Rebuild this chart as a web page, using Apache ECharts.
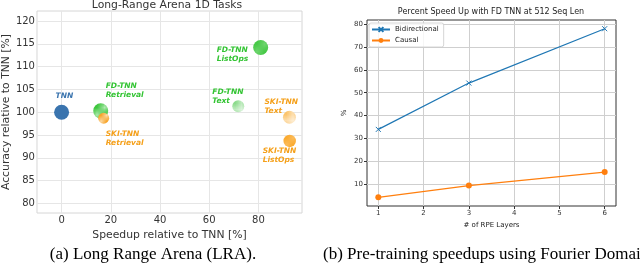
<!DOCTYPE html>
<html>
<head>
<meta charset="utf-8">
<script src="https://cdn.jsdelivr.net/npm/echarts@6.0.0/dist/echarts.min.js"></script>
<style>
html,body{margin:0;padding:0;background:#fff;}
#chart{width:640px;height:264px;}
</style>
</head>
<body>
<div id="chart"></div>
<script>
// ---- Left panel: Long-Range Arena 1D tasks ----
const lraNames = ['TNN', 'FD-TNN\nRetrieval', 'FD-TNN\nListOps', 'FD-TNN\nText', 'SKI-TNN\nRetrieval', 'SKI-TNN\nText', 'SKI-TNN\nListOps'];
const lraSpeedup = [0, 15.9, 80.9, 71.8, 17.1, 92.6, 92.7];
const lraAccuracy = [100, 100.3, 114.2, 101.3, 98.7, 98.9, 93.7];
const lraXTicks = [0, 20, 40, 60, 80];
const lraYTicks = [80, 85, 90, 95, 100, 105, 110, 115, 120];

// ---- Right panel: speed up vs RPE layers ----
const rpeLayers = [1, 3, 6];
const bidirectional = [34.0, 54.2, 77.9];
const causal = [4.4, 9.5, 15.4];
const rpeXTicks = [1, 2, 3, 4, 5, 6];
const rpeYTicks = [10, 20, 30, 40, 50, 60, 70, 80];

// styles (not data)
const lraStyle = [
  {color:'#3a74ae', text:'#3a74ae', size:15, hatch:null, off:[-6,-16]},
  {color:'#3dc73d', text:'#33c433', size:15, hatch:'diag', off:[5,-20]},
  {color:'#47c947', text:'#33c433', size:15, hatch:'light', off:[-44,7]},
  {color:'#8cdb8c', text:'#33c433', size:12, hatch:'grid', off:[-26,-10]},
  {color:'#f8a52a', text:'#f5a01a', size:11, hatch:'diag', off:[2,20]},
  {color:'#fcc46a', text:'#f5a01a', size:13, hatch:'grid', off:[-25,-11]},
  {color:'#fbab30', text:'#f5a01a', size:12.5, hatch:'light', off:[-27,15]}
];
function hatchFill(color, h){
  if(!h) return color;
  const c = document.createElement('canvas');
  const n = 4;
  c.width = n; c.height = n;
  const g = c.getContext('2d');
  g.fillStyle = color; g.fillRect(0,0,n,n);
  g.strokeStyle = h==='diag' ? 'rgba(255,255,255,0.6)' : (h==='grid' ? 'rgba(255,255,255,0.45)' : 'rgba(255,255,255,0.22)');
  g.lineWidth = 1;
  g.beginPath();
  if(h==='diag' || h==='light'){
    g.moveTo(-1,n+1); g.lineTo(n+1,-1);
    g.moveTo(-1,1); g.lineTo(1,-1);
    g.moveTo(n-1,n+1); g.lineTo(n+1,n-1);
  } else {
    g.moveTo(0,0.5); g.lineTo(n,0.5);
    g.moveTo(0.5,0); g.lineTo(0.5,n);
  }
  g.stroke();
  return {image:c, repeat:'repeat'};
}

const lraData = lraNames.map((n,i)=>{
  const s = lraStyle[i];
  return {
    name:n, value:[lraSpeedup[i], lraAccuracy[i]],
    symbolSize:s.size,
    itemStyle:{color:hatchFill(s.color, s.hatch), opacity:1},
    label:{show:true, position:'inside', align:'left', verticalAlign:'middle', offset:s.off,
      formatter:n, color:s.text, fontFamily:'DejaVu Sans', fontWeight:'bold', fontStyle:'italic',
      fontSize:7.5, lineHeight:9}
  };
});

const chart = echarts.init(document.getElementById('chart'), null, {renderer:'canvas'});
const axisFont = 'DejaVu Sans';
chart.setOption({
  animation:false,
  backgroundColor:'#fff',
  title:[
    {text:'Long-Range Arena 1D Tasks', left:167, top:0, textAlign:'center', padding:0,
      textStyle:{fontFamily:axisFont, fontSize:10.8, fontWeight:'normal', color:'#333'}},
    {text:'Percent Speed Up with FD TNN at 512 Seq Len', left:491, top:8, textAlign:'center', padding:0,
      textStyle:{fontFamily:axisFont, fontSize:8, fontWeight:'normal', color:'#222'}},
    {text:'(a) Long Range Arena (LRA).', left:153, top:246, textAlign:'center', padding:0,
      textStyle:{fontFamily:'Liberation Serif', fontSize:17, fontWeight:'normal', color:'#000'}},
    {text:'(b) Pre-training speedups using Fourier Domai', left:323, top:246, textAlign:'left', padding:0,
      textStyle:{fontFamily:'Liberation Serif', fontSize:17, fontWeight:'normal', color:'#000'}}
  ],
  legend:{
    data:['Bidirectional','Causal'], orient:'vertical', left:369, top:23,
    padding:[3,5,3,2], itemWidth:18, itemHeight:6, itemGap:4,
    borderColor:'#cccccc', borderWidth:0.8, borderRadius:2, backgroundColor:'rgba(255,255,255,0.8)',
    textStyle:{fontFamily:axisFont, fontSize:7, color:'#222'}
  },
  grid:[
    {left:32, top:11, right:338, bottom:51, show:true, borderColor:'#d6d6d6', borderWidth:1, backgroundColor:'transparent'},
    {left:367, top:20, right:24, bottom:58, show:true, borderColor:'#333', borderWidth:1, backgroundColor:'transparent'}
  ],
  xAxis:[
    {type:'value', gridIndex:0, min:-10, max:97.7,
      name:'Speedup relative to TNN [%]', nameLocation:'middle', nameGap:13,
      nameTextStyle:{fontFamily:axisFont, fontSize:10.8, color:'#333'},
      axisLine:{show:false}, axisTick:{show:false, customValues:lraXTicks},
      axisLabel:{customValues:lraXTicks, margin:2, fontFamily:axisFont, fontSize:10, color:'#333'},
      splitLine:{show:true, lineStyle:{color:'#e6e6e6', width:1}}},
    {type:'value', gridIndex:1, min:0.75, max:6.25,
      name:'# of RPE Layers', nameLocation:'middle', nameGap:13,
      nameTextStyle:{fontFamily:axisFont, fontSize:7, color:'#222'},
      axisLine:{show:false}, axisTick:{show:true, inside:false, length:3, lineStyle:{color:'#333'}, customValues:rpeXTicks},
      axisLabel:{customValues:rpeXTicks, margin:4, fontFamily:axisFont, fontSize:7, color:'#333'},
      splitLine:{show:true, lineStyle:{color:'#cfcfcf', width:1}}}
  ],
  yAxis:[
    {type:'value', gridIndex:0, min:77.9, max:122.2,
      name:'Accuracy relative to TNN [%]', nameLocation:'middle', nameGap:17,
      nameTextStyle:{fontFamily:axisFont, fontSize:10.8, color:'#333'},
      axisLine:{show:false}, axisTick:{show:false, customValues:lraYTicks},
      axisLabel:{customValues:lraYTicks, margin:2, fontFamily:axisFont, fontSize:10, color:'#333'},
      splitLine:{show:true, lineStyle:{color:'#e6e6e6', width:1}}},
    {type:'value', gridIndex:1, min:0.6, max:81.7,
      name:'%', nameLocation:'middle', nameGap:19,
      nameTextStyle:{fontFamily:axisFont, fontSize:7, color:'#222'},
      axisLine:{show:false}, axisTick:{show:true, inside:false, length:3, lineStyle:{color:'#333'}, customValues:rpeYTicks},
      axisLabel:{customValues:rpeYTicks, margin:4, fontFamily:axisFont, fontSize:7, color:'#333'},
      splitLine:{show:true, lineStyle:{color:'#cfcfcf', width:1}}}
  ],
  series:[
    {type:'scatter', name:'LRA', xAxisIndex:0, yAxisIndex:0, data:lraData, z:3},
    {type:'line', name:'Bidirectional', xAxisIndex:1, yAxisIndex:1,
      data:rpeLayers.map((x,i)=>[x, bidirectional[i]]),
      symbol:'path://M0,0L10,10M10,0L0,10', symbolSize:5, showAllSymbol:true,
      lineStyle:{color:'#1f77b4', width:1.2},
      itemStyle:{color:'#1f77b4', borderColor:'#1f77b4', borderWidth:1}},
    {type:'line', name:'Causal', xAxisIndex:1, yAxisIndex:1,
      data:rpeLayers.map((x,i)=>[x, causal[i]]),
      symbol:'circle', symbolSize:6, showAllSymbol:true,
      lineStyle:{color:'#ff7f0e', width:1.2},
      itemStyle:{color:'#ff7f0e', borderWidth:0}}
  ]
});
</script>
</body>
</html>
